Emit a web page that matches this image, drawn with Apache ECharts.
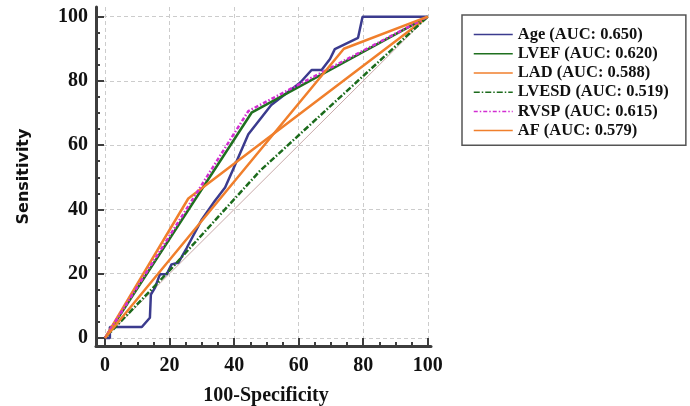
<!DOCTYPE html>
<html>
<head>
<meta charset="utf-8">
<script src="https://cdn.jsdelivr.net/npm/echarts@6/dist/echarts.min.js"></script>
<style>html,body{margin:0;padding:0;background:#fff}#c{width:690px;height:406px}</style>
</head>
<body>
<div id="c"></div>
<script>
const majorTicks = [0, 20, 40, 60, 80, 100];
const minorTicks = [5, 10, 15, 25, 30, 35, 45, 50, 55, 65, 70, 75, 85, 90, 95];
const seriesNames = ['Age (AUC: 0.650)', 'LVEF (AUC: 0.620)', 'LAD (AUC: 0.588)', 'LVESD (AUC: 0.519)', 'RVSP (AUC: 0.615)', 'AF (AUC: 0.579)'];
const ageData = [[0,0],[1.5,0],[1.5,3.4],[11.4,3.4],[13.9,6.3],[14.2,13.5],[15.5,15.7],[17,19.8],[19.1,19.8],[20.6,22.9],[22.7,23.4],[25.3,28],[30,36.9],[34,42.6],[37.2,46.8],[39.7,52.5],[44.4,63.4],[51.5,72.5],[57.8,77.4],[60.5,79.5],[64,83.4],[67.1,83.4],[69.7,86.8],[71.2,89.9],[78.4,93.4],[79.8,100],[100,100]];
const lvefData = [[0,0],[45.4,70.1],[100,100]];
const ladData = [[0,0],[25.8,43.4],[100,100]];
const lvesdData = [[0,0],[20,21],[48,52],[100,100]];
const rvspData = [[0,0],[44.4,70.6],[100,100]];
const afData = [[0,0],[74,90],[100,100]];
const diagData = [[0,0],[100,100]];

const serif = 'Liberation Serif';
const chart = echarts.init(document.getElementById('c'), null, {renderer: 'canvas'});
const axisColor = '#3d3d3d';
function mainAxis(extra) {
  return Object.assign({
    type: 'value',
    axisLine: {show: true, onZero: false, lineStyle: {color: axisColor, width: 3}},
    axisTick: {show: true, inside: true, length: 8, customValues: majorTicks, lineStyle: {color: axisColor, width: 2}},
    axisLabel: {customValues: majorTicks, margin: 8, color: '#111', fontFamily: serif, fontWeight: 'bold', fontSize: 20},
    splitLine: {show: true, lineStyle: {color: '#cccccc', type: [4, 3], width: 1}},
    minorTick: {show: false}
  }, extra);
}
function minorAxis(extra) {
  return Object.assign({
    type: 'value',
    axisLine: {show: false, onZero: false},
    axisTick: {show: true, inside: true, length: 4, customValues: minorTicks, lineStyle: {color: axisColor, width: 2}},
    axisLabel: {show: false},
    splitLine: {show: false}
  }, extra);
}
const xr = {min: -2.8, max: 101};
const yr = {min: -2.5, max: 103};
function line(name, data, color, type) {
  return {
    name: name, type: 'line', data: data, showSymbol: false, symbol: 'none',
    lineStyle: {color: color, width: 2.5, type: type || 'solid'},
    itemStyle: {color: color}, animation: false, z: 3
  };
}
chart.setOption({
  animation: false,
  grid: {left: 96, right: 259, top: 7, bottom: 60, containLabel: false, outerBoundsMode: 'none'},
  xAxis: [
    mainAxis(Object.assign({position: 'bottom', name: '100-Specificity', nameLocation: 'middle', nameGap: 40,
      axisLabel: {customValues: majorTicks, margin: 10, color: '#111', fontFamily: serif, fontWeight: 'bold', fontSize: 20},
      nameTextStyle: {color: '#111', fontFamily: serif, fontWeight: 'bold', fontSize: 20, padding: [0, 0, 0, 5]}}, xr)),
    minorAxis(Object.assign({position: 'bottom'}, xr))
  ],
  yAxis: [
    mainAxis(Object.assign({position: 'left', name: 'Sensitivity', nameLocation: 'middle', nameGap: 64,
      nameTextStyle: {color: '#111', fontFamily: 'DejaVu Sans', fontWeight: 'bold', fontSize: 16}}, yr)),
    minorAxis(Object.assign({position: 'left'}, yr))
  ],
  legend: {
    orient: 'vertical', left: 462, top: 15,
    data: seriesNames,
    itemWidth: 39, itemHeight: 12, itemGap: 0, itemTextGap: 16,
    padding: [10, 17, 5, 11],
    borderColor: '#555', borderWidth: 1.5, borderRadius: 0,
    lineStyle: {width: 1.5},
    itemStyle: {opacity: 0},
    textStyle: {color: '#111', fontFamily: serif, fontWeight: 'bold', fontSize: 16.5, lineHeight: 19.2}
  },
  series: [
    {type: 'line', data: diagData, showSymbol: false, symbol: 'none', silent: true,
      lineStyle: {color: '#c9a9a9', width: 1}, z: 2},
    line(seriesNames[0], ageData, '#3b3b8e'),
    line(seriesNames[1], lvefData, '#1f701f'),
    line(seriesNames[2], ladData, '#f07f2c'),
    line(seriesNames[3], lvesdData, '#1c6b1c', [6, 2, 1.5, 2]),
    line(seriesNames[4], rvspData, '#d22ed2', [4, 2, 1.5, 2]),
    line(seriesNames[5], afData, '#f07f2c')
  ]
});
</script>
</body>
</html>
